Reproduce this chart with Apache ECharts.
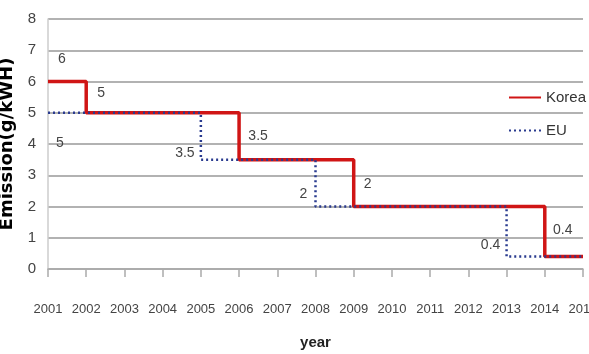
<!DOCTYPE html>
<html>
<head>
<meta charset="utf-8">
<script src="https://cdn.jsdelivr.net/npm/echarts@6/dist/echarts.min.js"></script>
<style>
html,body{margin:0;padding:0;background:#fff}
#main{width:589px;height:354px}
</style>
</head>
<body>
<div id="main"></div>
<script>
var years = [2001,2002,2003,2004,2005,2006,2007,2008,2009,2010,2011,2012,2013,2014,2015]
var koreaYears = [2001,2002,2006,2009,2014,2015]
var koreaValues = [6,5,3.5,2,0.4,0.4]
var euYears = [2001,2005,2008,2013,2015]
var euValues = [5,3.5,2,0.4,0.4]

// label offsets for each step point (last point has none)
var koreaOffsets = [[14,-10],[15,-8],[19,-11],[14,-10],[18,-14],null]
var euOffsets = [[12,42],[-16,6],[-12,0],[-16,1],null]

var font = '"Liberation Sans Narrow","Liberation Sans",sans-serif'

function buildData(xs,ys,offs){
  return xs.map(function(x,i){
    var item = {value:[x,ys[i]]}
    if(offs[i]){
      item.label = {show:true,position:'top',offset:offs[i]}
    } else {
      item.label = {show:false}
    }
    return item
  })
}

var chart = echarts.init(document.getElementById('main'))
var option = {
  animation:false,
  grid:{left:48,right:6,top:19,bottom:85,outerBoundsMode:'none'},
  legend:{
    orient:'vertical',
    left:503,
    top:85,
    itemGap:18,
    itemWidth:32,
    itemHeight:12,
    itemStyle:{opacity:0},
    textStyle:{fontFamily:font,fontSize:15,color:'#333'},
    data:['Korea','EU']
  },
  xAxis:{
    type:'value',
    min:2001,
    max:2015,
    interval:1,
    name:'year',
    nameLocation:'middle',
    nameGap:66,
    nameTextStyle:{fontFamily:font,fontSize:15,color:'#222',fontWeight:'bold'},
    axisLine:{show:true,lineStyle:{color:'#aaa',width:1.5}},
    axisTick:{show:true,length:8,lineStyle:{color:'#aaa',width:1.5}},
    axisLabel:{
      margin:34,
      fontFamily:font,
      fontSize:13,
      color:'#444',
      formatter:function(v){ return years.indexOf(v)>=0 ? String(v) : '' }
    },
    splitLine:{show:false}
  },
  yAxis:{
    type:'value',
    min:0,
    max:8,
    interval:1,
    name:'Emission(g/kWH)',
    nameLocation:'middle',
    nameGap:23,
    nameTextStyle:{fontFamily:'"DejaVu Sans",sans-serif',fontSize:18,color:'#000',fontWeight:'bold'},
    axisLine:{show:true,lineStyle:{color:'#ccc',width:1.5}},
    axisTick:{show:false},
    axisLabel:{margin:12,fontFamily:font,fontSize:15,color:'#444'},
    splitLine:{lineStyle:{color:'#999',width:1.5}}
  },
  series:[
    {
      name:'Korea',
      type:'line',
      step:'end',
      symbol:'circle',
      symbolSize:0.1,
      showAllSymbol:true,
      lineStyle:{color:'#d01515',width:3.5},
      itemStyle:{color:'#d01515'},
      label:{fontFamily:font,fontSize:14,color:'#444'},
      data:buildData(koreaYears,koreaValues,koreaOffsets)
    },
    {
      name:'EU',
      type:'line',
      step:'end',
      symbol:'circle',
      symbolSize:0.1,
      showAllSymbol:true,
      lineStyle:{color:'#2a3b8f',width:2.5,type:[2,3]},
      itemStyle:{color:'#2a3b8f'},
      label:{fontFamily:font,fontSize:14,color:'#444'},
      data:buildData(euYears,euValues,euOffsets)
    }
  ]
}
chart.setOption(option)
</script>
</body>
</html>
